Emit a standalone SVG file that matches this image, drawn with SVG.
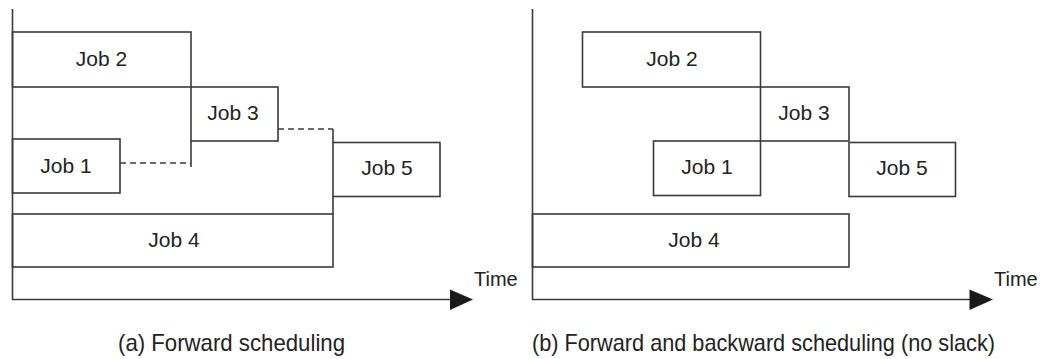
<svg xmlns="http://www.w3.org/2000/svg" width="1046" height="359" viewBox="0 0 1046 359">
<style>
.box{fill:none;stroke:#3a3a3a;stroke-width:1.6}
.ln{fill:none;stroke:#3a3a3a;stroke-width:1.6}
.dash{fill:none;stroke:#3a3a3a;stroke-width:1.6;stroke-dasharray:6 4}
.lbl{font-family:"Liberation Sans",Arial,sans-serif;font-size:21px;fill:#222;text-anchor:middle}
.cap{font-family:"Liberation Sans",Arial,sans-serif;font-size:24px;fill:#222}
.time{font-family:"Liberation Sans",Arial,sans-serif;font-size:20px;fill:#222}
.head{fill:#1a1a1a}
</style>
<rect width="1046" height="359" fill="#fff"/>
<g id="connectors">
  <polyline class="ln" points="12.5,9 12.5,299.5 452,299.5"/>
  <polygon class="head" points="450,289.5 473,299.5 450,310"/>
  <line class="ln" x1="191" y1="141" x2="191" y2="167"/>
  <line class="dash" x1="120" y1="163" x2="191" y2="163"/>
  <line class="dash" x1="278" y1="129" x2="333" y2="129"/>
  <line class="ln" x1="333" y1="129" x2="333" y2="142.5"/>
  <line class="ln" x1="333" y1="196.5" x2="333" y2="214"/>
  <polyline class="ln" points="532.5,9 532.5,299.5 971,299.5"/>
  <polygon class="head" points="969.5,289.5 993,299.5 969.5,310"/>
</g>
<g id="panel-a">
  <g id="a-job2"><rect class="box" x="12.5" y="32" width="178.5" height="55"/><text class="lbl" x="101.5" y="66">Job 2</text></g>
  <g id="a-job3"><rect class="box" x="191" y="87" width="87" height="54"/><text class="lbl" x="233" y="120">Job 3</text></g>
  <g id="a-job1"><rect class="box" x="12.5" y="139" width="107.5" height="54"/><text class="lbl" x="66" y="173">Job 1</text></g>
  <g id="a-job5"><rect class="box" x="333" y="142.5" width="107" height="54"/><text class="lbl" x="387" y="175">Job 5</text></g>
  <g id="a-job4"><rect class="box" x="12.5" y="214" width="320.5" height="53"/><text class="lbl" x="174" y="247">Job 4</text></g>
  <text class="time" x="474" y="286">Time</text>
  <text class="cap" x="118" y="351" textLength="227" lengthAdjust="spacingAndGlyphs">(a) Forward scheduling</text>
</g>
<g id="panel-b">
  <g id="b-job2"><rect class="box" x="582.5" y="32" width="178" height="55"/><text class="lbl" x="672" y="66">Job 2</text></g>
  <g id="b-job3"><rect class="box" x="760.5" y="87" width="88.5" height="54"/><text class="lbl" x="804" y="120">Job 3</text></g>
  <g id="b-job1"><rect class="box" x="653.5" y="141" width="107" height="54.5"/><text class="lbl" x="707" y="174">Job 1</text></g>
  <g id="b-job5"><rect class="box" x="849" y="142.5" width="106.5" height="54"/><text class="lbl" x="902" y="175">Job 5</text></g>
  <g id="b-job4"><rect class="box" x="532.5" y="214" width="316.5" height="53"/><text class="lbl" x="694" y="247">Job 4</text></g>
  <text class="time" x="994" y="286">Time</text>
  <text class="cap" x="532" y="351" textLength="463" lengthAdjust="spacingAndGlyphs">(b) Forward and backward scheduling (no slack)</text>
</g>
</svg>
